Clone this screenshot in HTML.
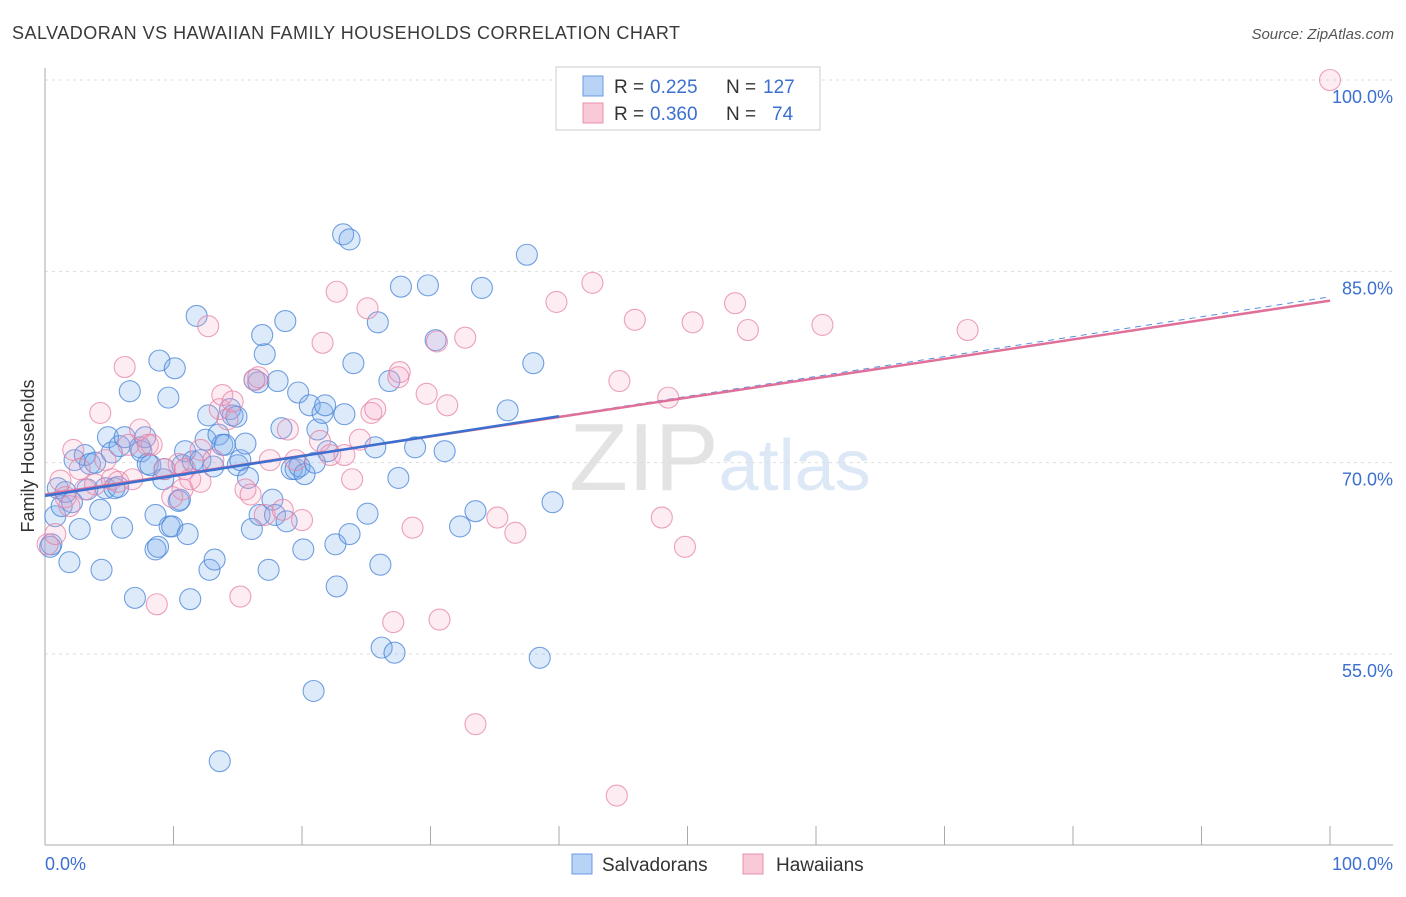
<!DOCTYPE html>
<html><head><meta charset="utf-8"><style>
body{margin:0;background:#fff;font-family:"Liberation Sans",sans-serif;}
svg text{font-family:"Liberation Sans",sans-serif;}
</style></head><body>
<svg id="chart" width="1406" height="892" xmlns="http://www.w3.org/2000/svg">
<text x="12" y="39" font-size="18" fill="#3a3a3a" textLength="668">SALVADORAN VS HAWAIIAN FAMILY HOUSEHOLDS CORRELATION CHART</text>
<text x="1394" y="39" font-size="15" fill="#555" font-style="italic" text-anchor="end">Source: ZipAtlas.com</text>
<text x="720" y="490" font-size="96" fill="#e3e3e3" text-anchor="middle" font-family="Liberation Serif">ZIP<tspan fill="#dde8f6" font-family="Liberation Sans" font-size="72">atlas</tspan></text>
<text transform="translate(34,456) rotate(-90)" font-size="18" fill="#333" text-anchor="middle">Family Households</text>
<g id="grid"></g><g id="pts"></g><g id="lines"></g>
<g>
<rect x="556" y="67" width="264" height="63" fill="#fff" stroke="#ccc"/>
<rect x="583" y="76" width="20" height="20" fill="#b8d3f5" stroke="#6a9be0"/>
<rect x="583" y="103" width="20" height="20" fill="#f9c9d8" stroke="#e891ab"/>
<text x="614" y="93" font-size="19" fill="#333">R =</text><text x="650" y="93" font-size="19" fill="#3b6fd0">0.225</text>
<text x="726" y="93" font-size="19" fill="#333">N =</text><text x="763" y="93" font-size="19" fill="#3b6fd0">127</text>
<text x="614" y="120" font-size="19" fill="#333">R =</text><text x="650" y="120" font-size="19" fill="#3b6fd0">0.360</text>
<text x="726" y="120" font-size="19" fill="#333">N =</text><text x="772" y="120" font-size="19" fill="#3b6fd0">74</text>
</g>
<g>
<rect x="572" y="854" width="20" height="20" fill="#b8d3f5" stroke="#6a9be0"/>
<text x="602" y="871" font-size="19" fill="#333">Salvadorans</text>
<rect x="743" y="854" width="20" height="20" fill="#f9c9d8" stroke="#e891ab"/>
<text x="776" y="871" font-size="19" fill="#333">Hawaiians</text>
</g>
</svg>
<script>
const yTicks=[100,85,70,55];
const yTickLabels=["100.0%","85.0%","70.0%","55.0%"];
const xTicks=[0,10,20,30,40,50,60,70,80,90,100];
const blueX=[0.4,0.5,0.8,1.0,1.3,1.6,1.9,2.1,2.3,2.7,3.1,3.3,3.5,3.9,4.3,4.4,4.7,4.9,5.2,5.4,5.7,5.8,6.0,6.2,6.6,7.0,7.4,7.5,7.8,8.0,8.2,8.6,8.6,8.8,8.9,9.2,9.3,9.6,9.7,9.9,10.1,10.4,10.5,10.7,10.9,11.1,11.3,11.5,11.8,12.1,12.5,12.7,12.8,13.1,13.2,13.5,13.8,14.0,14.4,14.6,14.9,15.0,15.2,15.6,15.8,16.1,16.3,16.6,16.7,16.9,17.1,17.4,17.7,17.9,18.1,18.4,18.7,18.8,19.2,19.5,19.7,19.8,20.1,20.2,20.6,20.9,21.0,21.2,21.6,21.8,22.0,22.6,22.7,23.2,23.7,23.3,23.7,24.0,25.1,25.7,25.9,26.1,26.2,26.8,27.2,27.5,27.7,28.8,29.8,30.4,31.1,32.3,33.5,34.0,36.0,37.5,38.0,38.5,39.5,13.6];
const blueY=[63.4,63.6,65.8,68.0,66.6,67.7,62.2,66.9,70.2,64.8,70.6,67.9,69.9,70.0,66.3,61.6,68.0,72.0,70.8,68.0,68.1,71.3,64.9,72.0,75.6,59.4,71.2,70.9,72.0,69.9,69.8,65.9,63.2,63.4,78.0,68.7,69.5,75.1,65.0,65.0,77.4,67.0,67.1,69.8,70.9,64.4,59.3,70.1,81.5,70.2,71.8,73.7,61.6,69.7,62.4,72.2,71.4,71.4,74.2,73.7,73.6,69.8,70.2,71.5,68.8,64.8,76.5,76.3,65.9,80.0,78.5,61.6,67.1,65.9,76.4,72.7,81.1,65.4,69.5,69.5,75.5,69.7,63.2,69.1,74.5,52.1,70.0,72.6,73.9,74.5,70.9,63.6,60.3,87.9,87.5,73.8,64.4,77.8,66.0,71.2,81.0,62.0,55.5,76.4,55.1,68.8,83.8,71.2,83.9,79.6,70.9,65.0,66.2,83.7,74.1,86.3,77.8,54.7,66.9,46.6];
const pinkX=[0.2,0.8,1.2,1.6,1.9,2.2,2.7,3.1,3.9,4.3,4.7,5.2,5.7,6.2,6.5,6.8,7.4,8.0,8.3,8.7,9.3,9.9,10.4,10.7,10.9,11.3,12.1,12.1,12.7,13.1,13.6,13.8,14.2,14.6,15.2,15.6,16.0,16.3,16.6,17.1,17.5,18.5,18.9,19.5,20.0,21.4,21.6,22.2,22.7,23.3,23.9,24.5,25.1,25.4,25.7,27.1,27.5,27.6,28.6,29.7,30.5,30.7,31.3,32.7,33.5,35.2,36.6,39.8,42.6,44.5,44.7,45.9,48.0,48.5,49.8,50.4,53.7,54.7,60.5,71.8,100];
const pinkY=[63.6,64.4,68.6,67.3,66.6,71.0,69.5,67.9,68.3,73.9,70.2,68.7,68.5,77.5,71.4,68.7,72.6,71.4,71.4,58.9,69.5,67.3,69.9,67.9,69.5,68.7,68.5,71.0,80.7,70.2,74.2,75.3,73.4,74.8,59.5,67.9,67.5,76.5,76.7,65.9,70.2,66.3,72.6,70.2,65.5,71.7,79.4,70.6,83.4,70.6,68.7,71.8,82.1,73.9,74.2,57.5,76.7,77.1,64.9,75.4,79.5,57.7,74.5,79.8,49.5,65.7,64.5,82.6,84.1,43.9,76.4,81.2,65.7,75.1,63.4,81.0,82.5,80.4,80.8,80.4,100];
const blueTrend=[67.4,0.156];
const pinkTrend=[67.5,0.152];
const NS='http://www.w3.org/2000/svg';
const X0=45,X1=1330,YT=80,YB=654;
function sx(v){return X0+(X1-X0)*v/100;}
function sy(v){return YT+(100-v)*(YB-YT)/45;}
function mk(tag,attrs,parent){const e=document.createElementNS(NS,tag);for(const k in attrs)e.setAttribute(k,attrs[k]);parent.appendChild(e);return e;}
const grid=document.getElementById('grid');
yTicks.forEach((t,i)=>{
  const l=mk('line',{x1:45,x2:1393,y1:sy(t),y2:sy(t),stroke:'#ddd','stroke-dasharray':'3,4'},grid);
  
  
  const tx=mk('text',{x:1393,y:sy(t)+23,'font-size':18,fill:'#3b6fd0','text-anchor':'end'},grid);
  tx.textContent=yTickLabels[i];
  
  
});
const ax=mk('line',{x1:45,x2:45,y1:68,y2:845,stroke:'#aaa'},grid);


const bx=mk('line',{x1:45,x2:1393,y1:845,y2:845,stroke:'#aaa'},grid);


xTicks.forEach(t=>{const l=mk('line',{x1:sx(t),x2:sx(t),y1:826,y2:845,stroke:'#aaa'},grid);
  
  });
[[0,'0.0%','start',45],[100,'100.0%','end',1393]].forEach(a=>{const t=mk('text',{x:a[3],y:870,'font-size':18,fill:'#3b6fd0','text-anchor':a[2]},grid);t.textContent=a[1];
  
  });
const pts=document.getElementById('pts');
blueX.forEach((x,i)=>{const c=mk('circle',{cx:sx(x),cy:sy(blueY[i]),r:10.5,fill:'rgba(120,170,235,0.25)',stroke:'rgba(70,130,215,0.75)','stroke-width':1.1},pts);
  
  });
pinkX.forEach((x,i)=>{const c=mk('circle',{cx:sx(x),cy:sy(pinkY[i]),r:10.5,fill:'rgba(245,165,195,0.2)',stroke:'rgba(230,130,165,0.75)','stroke-width':1.1},pts);
  
  });
const lines=document.getElementById('lines');
let l1=mk('line',{x1:sx(40),y1:sy(blueTrend[0]+blueTrend[1]*40),x2:sx(100),y2:sy(blueTrend[0]+blueTrend[1]*100),stroke:'#5a8fdc','stroke-width':1,'stroke-dasharray':'6,5'},lines);


let l2=mk('line',{x1:sx(0),y1:sy(pinkTrend[0]),x2:sx(100),y2:sy(pinkTrend[0]+pinkTrend[1]*100),stroke:'#e0709a','stroke-width':2.5},lines);


let l3=mk('line',{x1:sx(0),y1:sy(blueTrend[0]),x2:sx(40),y2:sy(blueTrend[0]+blueTrend[1]*40),stroke:'#3b6fd0','stroke-width':2.5},lines);


</script>
</body></html>
